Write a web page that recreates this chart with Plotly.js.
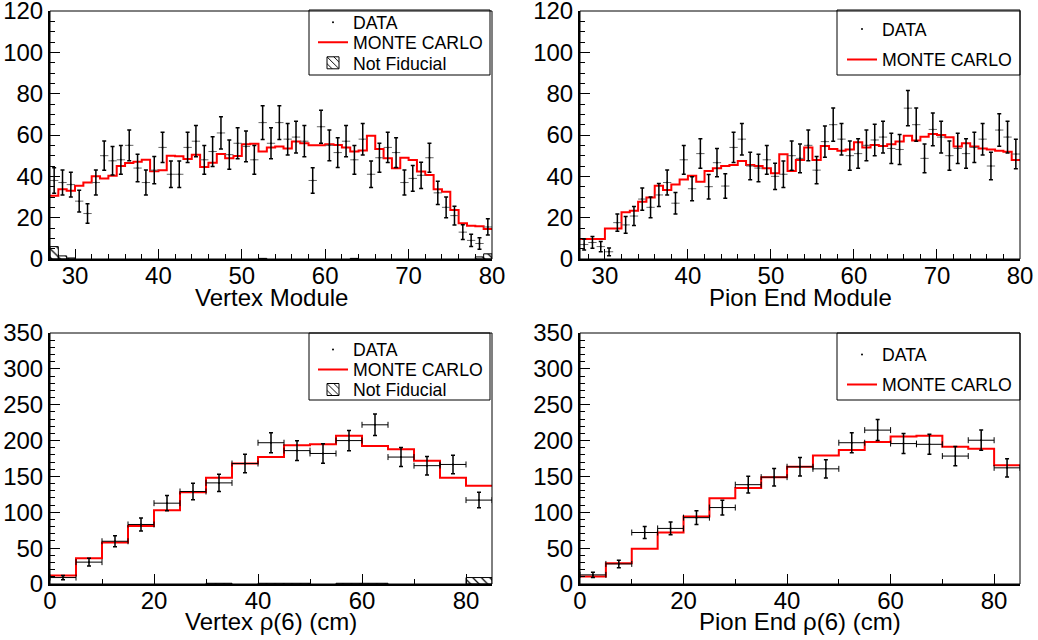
<!DOCTYPE html>
<html>
<head>
<meta charset="utf-8">
<script src="https://cdn.plot.ly/plotly-3.0.1.min.js"></script>
<style>html,body{margin:0;padding:0;background:#fff}#chart{width:1038px;height:640px}</style>
</head>
<body>
<div id="chart"></div>
<script>
// ---- bins ----
const moduleBins = [27.5,28.5,29.5,30.5,31.5,32.5,33.5,34.5,35.5,36.5,37.5,38.5,39.5,40.5,41.5,42.5,43.5,44.5,45.5,46.5,47.5,48.5,49.5,50.5,51.5,52.5,53.5,54.5,55.5,56.5,57.5,58.5,59.5,60.5,61.5,62.5,63.5,64.5,65.5,66.5,67.5,68.5,69.5,70.5,71.5,72.5,73.5,74.5,75.5,76.5,77.5,78.5,79.5];
const rhoBins = [2.5,7.5,12.5,17.5,22.5,27.5,32.5,37.5,42.5,47.5,52.5,57.5,62.5,67.5,72.5,77.5,82.5];

// ---- Vertex Module ----
const vtxModData = [38,37,36,28,22,37,50,47.5,48,55,44,37,43,54,41,41,54,57,48,52,61,50.5,56,54.5,48,66,56,66,58,59,57,38,64,55,51.5,57,48,58,41,49,54,51.5,37,39,40.5,49,32,25,21,13,9,7.5,15.5];
const vtxModMC = [30.6,33.7,33,35.5,37,40,39,40.3,45,46.5,47,48,42.5,43,50,49.7,48.4,50.5,44.5,46.6,50.8,48.7,49.8,55.5,55.8,52,54,54.4,53.5,56.8,56,55,55,55.5,55.2,54,52,52.5,59.7,53.2,48.7,43.9,49,47.9,42.3,40.6,33.7,32.6,23.7,17.3,16.1,15.8,14.5];
const vtxModNFx = [27.5,28.5,29.5,52.5,63.5,78.5,79.5];
const vtxModNF = [6,1.5,0.5,0.3,0.3,1,2.5];

// ---- Pion End Module ----
const pionModData = [7,8,6,3.5,17.6,16.5,20.8,29,25,31,37,27,48,34,51,35,46.6,35.3,54,58,45,44,48,40,41,50,48.7,55,43,56.8,65,58,50,51,55,57.6,59,53.5,53,73,65,48.7,62.7,59,50,53.5,51,54,58,45,62.4,59,50.8];
const pionModMC = [9.7,9.7,9.7,14.8,14.8,22.6,23.4,27.7,29.8,35.5,33.4,36,38.5,40.3,37.4,42.6,43.9,45,45.5,47.4,45.5,45,43.9,41.5,50.7,42.6,47.9,53.9,47.9,54.7,53.2,52.4,53,56.5,53.9,55.2,54.7,55.5,56.8,59.7,57.3,59.2,60.5,60,58.9,54.4,56,54.4,53.5,53,52.4,51.9,47.9];

// ---- Vertex rho(6) ----
const vtxRhoData = [9,30.5,59.6,83,112.7,129,141,168,197,186,182,200,222,177,165,166.7,117];
const vtxRhoMC = [11.7,36,57.7,80.8,103,128,148,168,177,193.4,194.8,206.6,192.5,187.8,172,148,137];
const vtxRhoNFx = [32.5,42.5,47.5,57.5,62.5,82.5];
const vtxRhoNF = [1,1,1,1,1,9];

// ---- Pion End rho(6) ----
const pionRhoData = [12.7,28,71.8,77.5,92.5,106.6,138.5,149,163.5,160.6,197,214.6,195.8,194.8,178.4,200.5,162];
const pionRhoMC = [10.3,29,49.3,71.8,94,119.7,133.8,149,163.4,179.3,186.9,198,205.6,206.6,191.5,188.7,165.7];

// ---- labels ----
const xTitles = ['Vertex Module','Pion End Module','Vertex \u03c1(6) (cm)','Pion End \u03c1(6) (cm)'];
const legendNames = ['DATA','MONTE CARLO','Not Fiducial'];

function stepXY(centers, vals){
  const w = centers[1]-centers[0];
  const x = centers.map(c => c - w/2); x.push(centers[centers.length-1] + w/2);
  const y = vals.slice(); y.push(vals[vals.length-1]);
  return {x, y};
}

const W = 1038, H = 640;
const px = v => v / W, py = v => 1 - v / H;

function dataTrace(x, y, ax, lg, ex, showCap){
  return {type:'scatter', mode:'markers', x, y, xaxis:'x'+ax, yaxis:'y'+ax, legend:lg,
    name:legendNames[0], showlegend:true,
    marker:{color:'black', size:2},
    error_y:{type:'sqrt', visible:true, color:'black', thickness:1.5, width:2},
    error_x:{type:'constant', value:ex, visible:true, color: showCap ? 'black' : '#666', thickness:1, width: showCap ? 3 : 0}};
}
function mcTrace(c, v, ax, lg){
  const s = stepXY(c, v);
  return {type:'scatter', mode:'lines', x:s.x, y:s.y, xaxis:'x'+ax, yaxis:'y'+ax, legend:lg,
    name:legendNames[1], line:{color:'#ff0000', width:2, shape:'hv'}};
}
function nfTrace(x, y, ax, lg, w){
  return {type:'bar', x, y, width:w, xaxis:'x'+ax, yaxis:'y'+ax, legend:lg,
    name:legendNames[2],
    marker:{color:'white', line:{color:'black', width:1}, pattern:{shape:'\\', fgcolor:'black', bgcolor:'white', size:6, solidity:0.2}}};
}

const traces = [
  mcTrace(moduleBins, vtxModMC, '', 'legend2'),
  nfTrace(vtxModNFx, vtxModNF, '', 'legend3', 1),
  dataTrace(moduleBins, vtxModData, '', 'legend', 0.5, false),
  mcTrace(moduleBins, pionModMC, '2', 'legend5'),
  dataTrace(moduleBins, pionModData, '2', 'legend4', 0.5, false),
  mcTrace(rhoBins, vtxRhoMC, '3', 'legend7'),
  nfTrace(vtxRhoNFx, vtxRhoNF, '3', 'legend8', 5),
  dataTrace(rhoBins, vtxRhoData, '3', 'legend6', 2.5, true),
  mcTrace(rhoBins, pionRhoMC, '4', 'legend10'),
  dataTrace(rhoBins, pionRhoData, '4', 'legend9', 2.5, true)
];

const baseFont = {family:'Liberation Sans, Arial, Helvetica, sans-serif', color:'black'};
function axis(extra){
  return Object.assign({showline:true, linewidth:2, linecolor:'black', mirror:false,
    ticks:'inside', ticklen:10, tickwidth:1, tickcolor:'black', showgrid:false, zeroline:false,
    tickfont:{size:24, color:'black'}, ticklabeloverflow:'allow', automargin:false, fixedrange:true}, extra);
}
const topDom = [py(259), py(11)], botDom = [py(584), py(333)];
const colL = [px(50), px(492)], colR = [px(580), px(1020)];

function xax(dom, range, dtick, mdt, anchor){
  return axis({domain:dom, range, dtick, tick0:0, anchor, ticklabelstandoff:-6,
    minor:{ticks:'inside', ticklen:5, dtick:mdt, tickcolor:'black', tick0:0}});
}
function yax(dom, range, dtick, mdt, anchor){
  return axis({domain:dom, range, dtick, tick0:0, anchor, minor:{ticks:'inside', ticklen:5, dtick:mdt, tickcolor:'black', tick0:0}});
}
function legendAt(x, yc){
  return {x:px(x), y:py(yc), xanchor:'left', yanchor:'middle', bgcolor:'rgba(0,0,0,0)', borderwidth:0,
    font:{size:17.7, color:'black'}, itemwidth:30};
}
const frames = ['', '2', '3', '4'].map(a => ({type:'rect', xref:'x'+a+' domain', yref:'y'+a+' domain', x0:0, x1:1, y0:0, y1:1, line:{color:'black', width:1}}));
const legBoxes = [[309,490,10,75],[837,1020,10,75],[309,490,333,400],[837,1020,333,400]].map(b => ({type:'rect', xref:'paper', yref:'paper', x0:px(b[0]), x1:px(b[1]), y0:py(b[3]), y1:py(b[2]), line:{color:'black', width:1}, fillcolor:'white', layer:'below'}));

const titleAnn = [['x',297.5,0],['x2',297.5,1],['x3',621,2],['x4',621,3]].map(t => ({
  xref:t[0]+' domain', yref:'paper', x:0.5, y:py(t[1]), xanchor:'center', yanchor:'middle', showarrow:false,
  text:xTitles[t[2]], font:{size:24, color:'black'}}));

const layout = {
  width:W, height:H, margin:{l:0, r:0, t:0, b:0}, paper_bgcolor:'white', plot_bgcolor:'rgba(0,0,0,0)',
  font: baseFont, bargap:0, barmode:'overlay', showlegend:true,
  xaxis: xax(colL, [27,80], 10, 2, 'y'),
  yaxis: yax(topDom, [0,120.01], 20, 5, 'x'),
  xaxis2: xax(colR, [27,80], 10, 2, 'y2'),
  yaxis2: yax(topDom, [0,120.01], 20, 5, 'x2'),
  xaxis3: xax(colL, [0,85], 20, 10, 'y3'),
  yaxis3: yax(botDom, [0,350.01], 50, 10, 'x3'),
  xaxis4: xax(colR, [0,85], 20, 10, 'y4'),
  yaxis4: yax(botDom, [0,350.01], 50, 10, 'x4'),
  legend: legendAt(313, 22.7),
  legend2: legendAt(313, 42.7),
  legend3: legendAt(313, 63.3),
  legend4: legendAt(842, 29.5),
  legend5: legendAt(842, 60),
  legend6: legendAt(313, 350),
  legend7: legendAt(313, 370),
  legend8: legendAt(313, 390),
  legend9: legendAt(842, 355),
  legend10: legendAt(842, 385),
  shapes: legBoxes.concat(frames),
  annotations: titleAnn
};
Plotly.newPlot('chart', traces, layout, {displayModeBar:false, staticPlot:true});
</script>
</body>
</html>
